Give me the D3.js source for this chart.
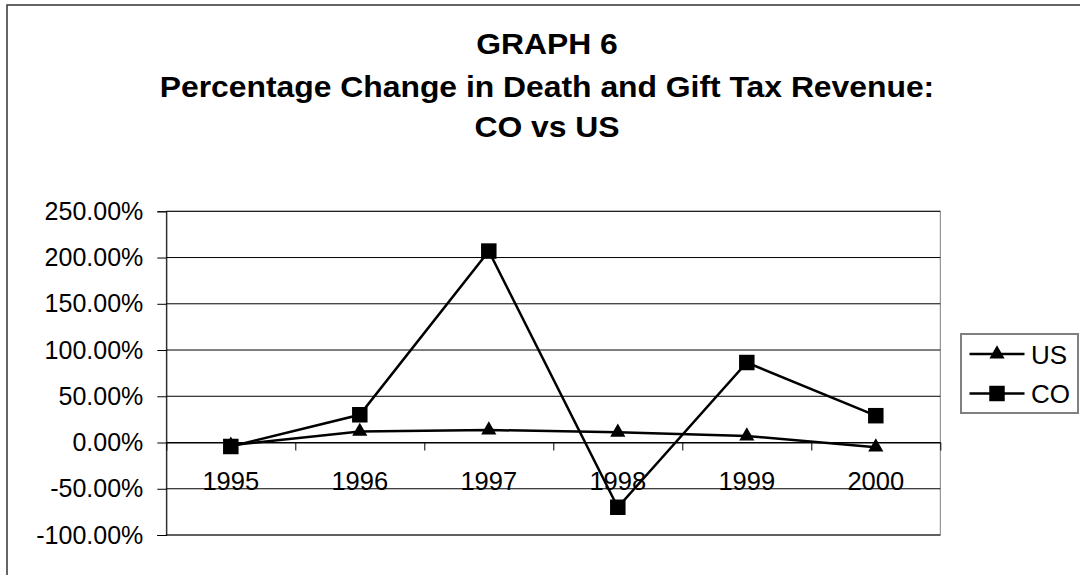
<!DOCTYPE html>
<html>
<head>
<meta charset="utf-8">
<script src="https://cdn.jsdelivr.net/npm/d3@7"></script>
<style>
  body { margin: 0; background: #fff; }
  svg { display: block; font-family: "Liberation Sans", Arial, sans-serif; }
</style>
</head>
<body>
<svg id="chart" width="1080" height="575"></svg>
<script>
// data
const years = ["1995", "1996", "1997", "1998", "1999", "2000"];
const usChange = [-0.03, 0.12, 0.135, 0.11, 0.07, -0.05];
const coChange = [-0.043, 0.30, 2.07, -0.70, 0.865, 0.29];
const yTicks = [-1, -0.5, 0, 0.5, 1, 1.5, 2, 2.5];
const titleLines = ["GRAPH 6", "Percentage Change in Death and Gift Tax Revenue:", "CO vs US"];

const svg = d3.select("#chart");

// outer chart border (right/bottom run off the page)
svg.append("rect")
  .attr("x", 7).attr("y", 5)
  .attr("width", 1090).attr("height", 600)
  .attr("fill", "none").attr("stroke", "#333").attr("stroke-width", 1.5);

// title
const titleY = [54, 97, 137];
titleLines.forEach((t, i) => {
  svg.append("text")
    .attr("transform", `translate(547,${titleY[i]}) scale(1.08,1)`)
    .attr("text-anchor", "middle")
    .attr("font-size", 29.5).attr("font-weight", "bold")
    .text(t);
});

const plotL = 166.3, plotR = 940.3, plotT = 211.3, plotB = 535;
const x = d3.scaleBand().domain(years).range([plotL, plotR]);
const y = d3.scaleLinear().domain([-1, 2.5]).range([plotB, plotT]);

// plot area border
svg.append("rect")
  .attr("x", plotL).attr("y", plotT)
  .attr("width", plotR - plotL).attr("height", plotB - plotT)
  .attr("fill", "none").attr("stroke", "#808080").attr("stroke-width", 1);

// gridlines
svg.append("g")
  .selectAll("line")
  .data(yTicks)
  .join("line")
  .attr("x1", plotL).attr("x2", plotR)
  .attr("y1", d => y(d)).attr("y2", d => y(d))
  .attr("stroke", "#000").attr("stroke-width", 1);

// y axis (plain hyphen for negatives, like the original)
const pct = d3.format(".2%");
const yAxis = svg.append("g")
  .attr("transform", `translate(${plotL},0)`)
  .call(d3.axisLeft(y).tickValues(yTicks).tickFormat(d => pct(d).replace("\u2212", "-")).tickSize(9).tickPadding(14));
yAxis.selectAll("path, line").attr("stroke", "#000");
yAxis.selectAll("text").attr("font-size", 25).attr("font-family", "Liberation Sans, Arial, sans-serif").attr("fill", "#000");

// x axis: line + ticks at category boundaries on the zero line
const xEdges = d3.scaleLinear().domain([0, years.length]).range([plotL, plotR]);
const xTickAxis = svg.append("g")
  .attr("transform", `translate(0,${y(0)})`)
  .call(d3.axisBottom(xEdges).ticks(years.length).tickSize(8).tickSizeOuter(0).tickFormat(""));
xTickAxis.selectAll("path, line").attr("stroke", "#000");

const xLabels = svg.append("g")
  .attr("transform", `translate(0,${y(0)})`)
  .call(d3.axisBottom(x).tickSize(0));
xLabels.select(".domain").remove();
xLabels.selectAll("text")
  .attr("y", 47.5).attr("dy", 0)
  .attr("font-size", 25.5).attr("font-family", "Liberation Sans, Arial, sans-serif").attr("fill", "#000");

// series
const line = d3.line().x((d, i) => x(years[i]) + x.bandwidth() / 2).y(d => y(d));
const series = [
  { name: "US", values: usChange, symbol: d3.symbolTriangle, size: 100 },
  { name: "CO", values: coChange, symbol: d3.symbolSquare, size: 240 }
];

series.forEach(s => {
  svg.append("path")
    .datum(s.values)
    .attr("d", line)
    .attr("fill", "none").attr("stroke", "#000").attr("stroke-width", 2.5);
  svg.append("g")
    .selectAll("path")
    .data(s.values)
    .join("path")
    .attr("transform", (d, i) => `translate(${x(years[i]) + x.bandwidth() / 2},${y(d)})`)
    .attr("d", d3.symbol(s.symbol, s.size))
    .attr("fill", "#000");
});

// legend
const legend = svg.append("g");
legend.append("rect")
  .attr("x", 961).attr("y", 334).attr("width", 117).attr("height", 79)
  .attr("fill", "#fff").attr("stroke", "#808080").attr("stroke-width", 2);
const legendY = [354, 393.5];
series.forEach((s, i) => {
  legend.append("line")
    .attr("x1", 969.5).attr("x2", 1024.5)
    .attr("y1", legendY[i]).attr("y2", legendY[i])
    .attr("stroke", "#000").attr("stroke-width", 2.5);
  legend.append("path")
    .attr("transform", `translate(997,${legendY[i]})`)
    .attr("d", d3.symbol(s.symbol, s.size))
    .attr("fill", "#000");
  legend.append("text")
    .attr("x", 1031).attr("y", legendY[i] + 9.5)
    .attr("font-size", 26)
    .text(s.name);
});
</script>
</body>
</html>
